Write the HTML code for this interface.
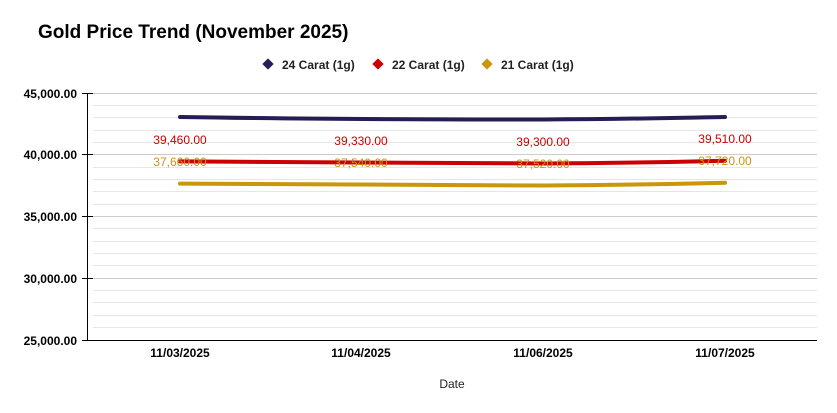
<!DOCTYPE html>
<html><head><style>
body{margin:0;background:#fff;}
svg{display:block;font-family:"Liberation Sans",Arial,sans-serif;}
</style></head><body>
<svg width="837" height="413" xmlns="http://www.w3.org/2000/svg">
<text x="38" y="38" font-size="19" font-weight="bold" fill="#000">Gold Price Trend (November 2025)</text>
<g font-size="12" font-weight="bold" fill="#222">
<rect x="264" y="60" width="8" height="8" transform="rotate(45 268 64)" fill="#231e54"/>
<text x="282" y="69">24 Carat (1g)</text>
<rect x="374" y="60" width="8" height="8" transform="rotate(45 378 64)" fill="#cc0000"/>
<text x="392" y="69">22 Carat (1g)</text>
<rect x="483" y="60" width="8" height="8" transform="rotate(45 487 64)" fill="#c9960c"/>
<text x="501" y="69">21 Carat (1g)</text>
</g>
<g stroke="#e6e6e6" stroke-width="1">
<line x1="93" x2="817" y1="105.5" y2="105.5"/><line x1="93" x2="817" y1="117.5" y2="117.5"/>
<line x1="93" x2="817" y1="130.5" y2="130.5"/><line x1="93" x2="817" y1="142.5" y2="142.5"/>
<line x1="93" x2="817" y1="167.5" y2="167.5"/><line x1="93" x2="817" y1="179.5" y2="179.5"/>
<line x1="93" x2="817" y1="191.5" y2="191.5"/><line x1="93" x2="817" y1="204.5" y2="204.5"/>
<line x1="93" x2="817" y1="228.5" y2="228.5"/><line x1="93" x2="817" y1="241.5" y2="241.5"/>
<line x1="93" x2="817" y1="253.5" y2="253.5"/><line x1="93" x2="817" y1="265.5" y2="265.5"/>
<line x1="93" x2="817" y1="290.5" y2="290.5"/><line x1="93" x2="817" y1="302.5" y2="302.5"/>
<line x1="93" x2="817" y1="315.5" y2="315.5"/><line x1="93" x2="817" y1="327.5" y2="327.5"/>
</g>
<g stroke="#cccccc" stroke-width="1">
<line x1="93" x2="817" y1="93.5" y2="93.5"/><line x1="93" x2="817" y1="154.5" y2="154.5"/>
<line x1="93" x2="817" y1="216.5" y2="216.5"/><line x1="93" x2="817" y1="278.5" y2="278.5"/>
</g>
<g stroke="#000" stroke-width="1">
<line x1="87.5" x2="87.5" y1="93" y2="340"/>
<line x1="87" x2="817" y1="340.5" y2="340.5"/>
<line x1="82" x2="93" y1="93.5" y2="93.5"/><line x1="82" x2="93" y1="154.5" y2="154.5"/>
<line x1="82" x2="93" y1="216.5" y2="216.5"/><line x1="82" x2="93" y1="278.5" y2="278.5"/>
<line x1="82" x2="93" y1="340.5" y2="340.5"/>
</g>
<g font-size="12" font-weight="bold" text-anchor="end" fill="#000">
<text x="77" y="98">45,000.00</text><text x="77" y="159">40,000.00</text>
<text x="77" y="221">35,000.00</text><text x="77" y="283">30,000.00</text>
<text x="77" y="345">25,000.00</text>
</g>
<g font-size="12" font-weight="bold" text-anchor="middle" fill="#000">
<text x="180" y="357">11/03/2025</text><text x="361" y="357">11/04/2025</text>
<text x="543" y="357">11/06/2025</text><text x="725" y="357">11/07/2025</text>
</g>
<text x="452" y="388" font-size="12" text-anchor="middle" fill="#222">Date</text>
<g fill="none" stroke-width="4" stroke-linecap="round">
<path d="M180 117 C300 119 420 119.5 543 119.5 C640 119 690 117.5 725 117" stroke="#231e54"/>
<path d="M180 161.4 C300 163 420 163.5 543 163.5 C640 163 690 161.5 725 160.8" stroke="#cc0000"/>
<path d="M180 183.6 C300 185 420 185.5 543 185.5 C640 185 690 183.5 725 182.8" stroke="#c9960c"/>
</g>
<g font-size="12" text-anchor="middle" fill="#cc0000">
<text x="180" y="144">39,460.00</text><text x="361" y="145">39,330.00</text>
<text x="543" y="146">39,300.00</text><text x="725" y="143">39,510.00</text>
</g>
<g font-size="12" text-anchor="middle" fill="#c9960c">
<text x="180" y="166">37,660.00</text><text x="361" y="167">37,540.00</text>
<text x="543" y="168">37,520.00</text><text x="725" y="165">37,720.00</text>
</g>
</svg>
</body></html>
